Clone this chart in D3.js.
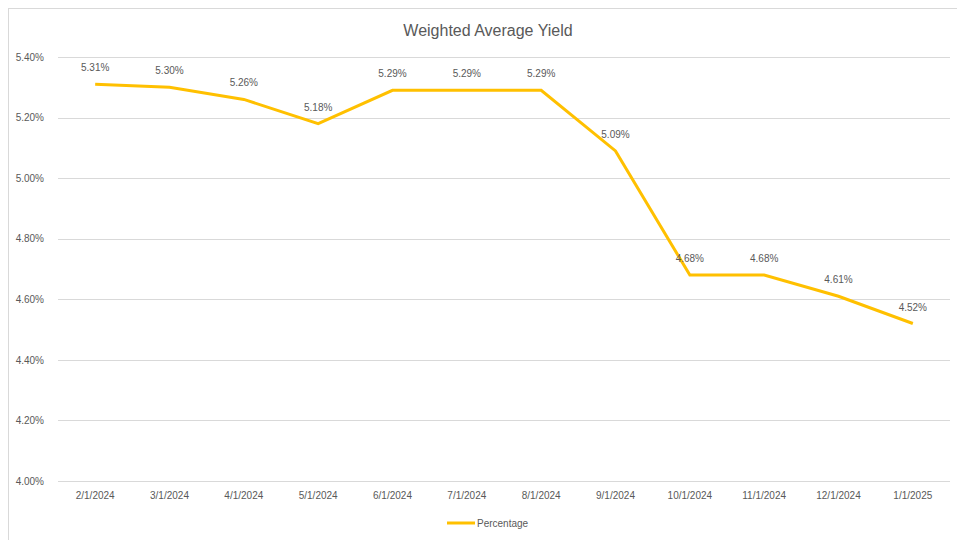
<!DOCTYPE html>
<html lang="en">
<head>
    <meta charset="UTF-8">
    <title>Weighted Average Yield</title>
    <script src="https://d3js.org/d3.v7.min.js"></script>
    <style>
        body { margin: 0; background: #fff; }
        svg { font-family: "Liberation Sans", Arial, sans-serif; }
        .axis path, .axis line { display: none; }
        .axis text { fill: #595959; font-size: 10px; }
        .grid line { stroke: #d9d9d9; stroke-width: 1; }
    </style>
</head>
<body>
    <svg width="957" height="540"></svg>
    <script>
        const dates = ["2/1/2024", "3/1/2024", "4/1/2024", "5/1/2024", "6/1/2024", "7/1/2024",
                       "8/1/2024", "9/1/2024", "10/1/2024", "11/1/2024", "12/1/2024", "1/1/2025"];
        const percentage = [5.31, 5.30, 5.26, 5.18, 5.29, 5.29, 5.29, 5.09, 4.68, 4.68, 4.61, 4.52];
        const yTicks = [4.00, 4.20, 4.40, 4.60, 4.80, 5.00, 5.20, 5.40];

        const margin = {top: 57, right: 7, bottom: 59, left: 58},
              width = 957 - margin.left - margin.right,
              height = 540 - margin.top - margin.bottom;

        const root = d3.select("svg");

        // chart border
        root.append("rect")
            .attr("x", 8.5).attr("y", 8.5)
            .attr("width", 960).attr("height", 540)
            .attr("fill", "none")
            .attr("stroke", "#d9d9d9");

        root.append("text")
            .attr("x", 488).attr("y", 36)
            .attr("text-anchor", "middle")
            .attr("fill", "#595959")
            .style("font-size", "16px")
            .text("Weighted Average Yield");

        const svg = root.append("g")
            .attr("transform", `translate(${margin.left}, ${margin.top})`);

        const x = d3.scaleBand()
            .domain(dates)
            .range([0, width]);

        const y = d3.scaleLinear()
            .domain([4.0, 5.4])
            .range([height, 0]);

        svg.append("g")
            .attr("class", "grid")
            .selectAll("line")
            .data(yTicks)
            .enter().append("line")
            .attr("x1", 0)
            .attr("x2", width)
            .attr("y1", d => Math.round(y(d)) + 0.5)
            .attr("y2", d => Math.round(y(d)) + 0.5);

        svg.append("g")
            .attr("class", "axis")
            .attr("transform", `translate(0, ${height})`)
            .call(d3.axisBottom(x).tickSize(0).tickPadding(11));

        svg.append("g")
            .attr("class", "axis")
            .attr("transform", "translate(-11, 0)")
            .call(d3.axisLeft(y).tickValues(yTicks).tickSize(0)
                .tickFormat(d => d.toFixed(2) + "%"));

        const line = d3.line()
            .x((d, i) => x(dates[i]) + x.bandwidth() / 2)
            .y(d => y(d));

        svg.append("path")
            .datum(percentage)
            .attr("fill", "none")
            .attr("stroke", "#ffc000")
            .attr("stroke-width", 3)
            .attr("stroke-linejoin", "miter")
            .attr("d", line);

        svg.selectAll(".label")
            .data(percentage)
            .enter().append("text")
            .attr("class", "label")
            .attr("x", (d, i) => x(dates[i]) + x.bandwidth() / 2)
            .attr("y", d => y(d) - 13)
            .attr("text-anchor", "middle")
            .attr("fill", "#595959")
            .style("font-size", "10px")
            .text(d => d.toFixed(2) + "%");

        // legend
        const legend = root.append("g").attr("transform", "translate(447, 523)");
        legend.append("line")
            .attr("x1", 0).attr("x2", 28)
            .attr("stroke", "#ffc000")
            .attr("stroke-width", 3);
        legend.append("text")
            .attr("x", 30).attr("y", 3.5)
            .attr("fill", "#595959")
            .style("font-size", "10px")
            .text("Percentage");
    </script>
</body>
</html>
